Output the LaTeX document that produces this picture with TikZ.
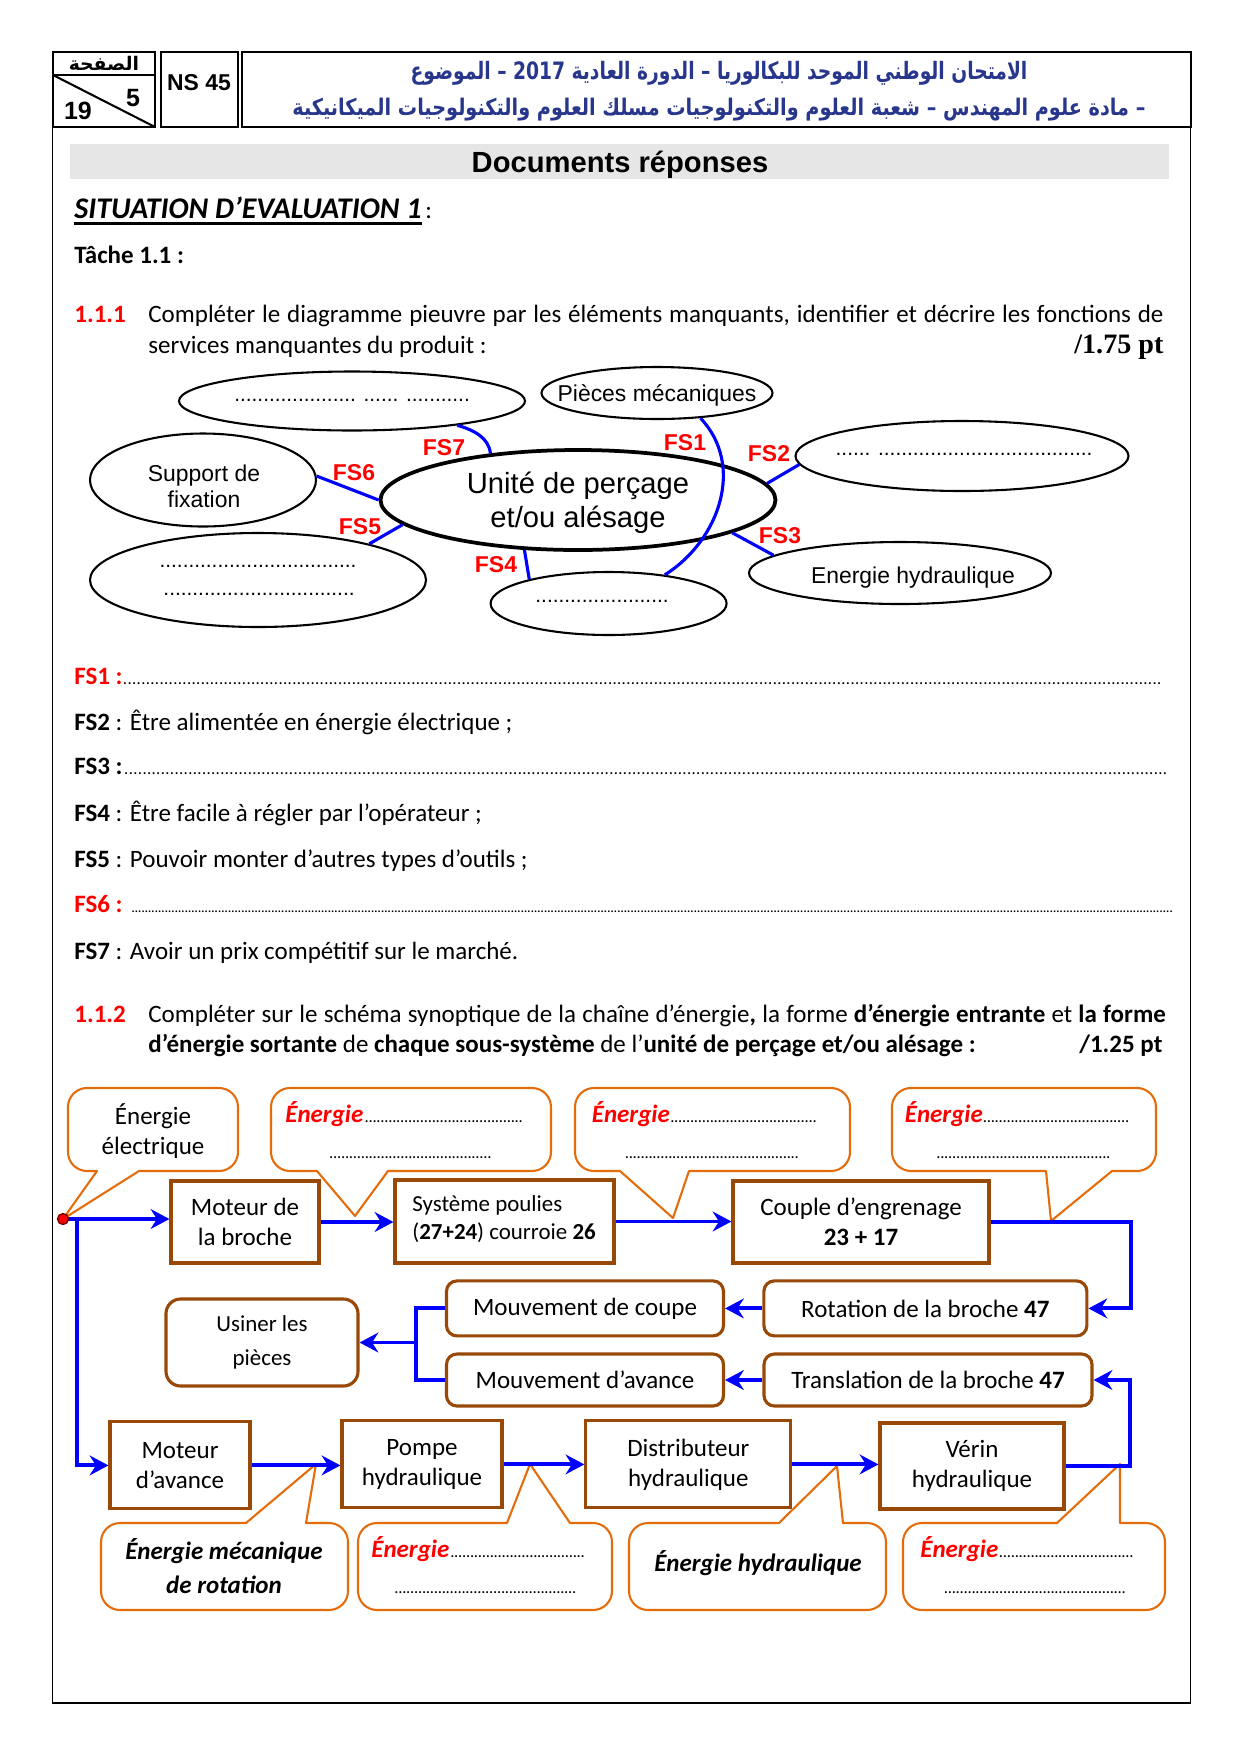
\documentclass[tikz,border=0pt]{standalone}
\usepackage{fontspec}
\usepackage{graphicx}
\setmainfont{Carlito}
\newfontfamily\arial{Liberation Sans}
\newfontfamily\tnr{Liberation Serif}
\newfontfamily\arabicfont[Script=Arabic]{DejaVu Sans}
\TeXXeTstate=1
\usetikzlibrary{shapes.geometric,arrows.meta,calc}
\definecolor{calloutc}{RGB}{228,108,10}
\definecolor{boxc}{RGB}{152,72,7}
\definecolor{hdrblue}{RGB}{40,55,140}
\definecolor{barg}{RGB}{230,230,230}
\newdimen\Upx \Upx=0.48pt
\newcommand\fdots{\cleaders\hbox to 1.9pt{\hss\fontsize{8}{8}\selectfont.\hss}\hfill}
\newcommand\fsdots{\cleaders\hbox to 2.2pt{\hss\fontsize{8}{8}\selectfont.\hss}\hfill}
\newcommand\fsdotsb{\cleaders\hbox to 1.6pt{\hss\fontsize{7}{7}\selectfont.\hss}\hfill}
\newcommand\enrg{{\color{red}\bfseries\itshape Énergie}}
% callout with pointer below: xL yT xR yB pL pR tipx tipy
\newcommand\callB[8]{\draw[callout] (#5,#4) -- (#7,#8) -- (#6,#4) -- ({#3-19},#4) arc[start angle=90,end angle=0,radius=19] -- (#3,{#2+19}) arc[start angle=0,end angle=-90,radius=19] -- ({#1+19},#2) arc[start angle=270,end angle=180,radius=19] -- (#1,{#4-19}) arc[start angle=180,end angle=90,radius=19] -- cycle;}
% callout with pointer above
\newcommand\callT[8]{\draw[callout] (#6,#2) -- (#7,#8) -- (#5,#2) -- ({#1+19},#2) arc[start angle=270,end angle=180,radius=19] -- (#1,{#4-19}) arc[start angle=180,end angle=90,radius=19] -- ({#3-19},#4) arc[start angle=90,end angle=0,radius=19] -- (#3,{#2+19}) arc[start angle=0,end angle=-90,radius=19] -- cycle;}
\begin{document}
\begin{tikzpicture}[x=0.48pt,y=-0.48pt,
  txt/.style={inner sep=0pt},
  sz/.style 2 args={minimum width={#1*\Upx},minimum height={#2*\Upx}},
  ell/.style={ellipse,draw,line width=1pt,inner sep=0pt},
  etxt/.style={inner sep=0pt,anchor=base,font=\arial\fontsize{11}{12.5}\selectfont},
  edots/.style={inner sep=0pt,anchor=base,font=\arial\fontsize{10}{12}\selectfont},
  pv/.style={blue,line width=1.5pt},
  fsl/.style={text=red,font=\arial\bfseries\fontsize{11}{13}\selectfont,inner sep=0pt},
  box/.style={draw=boxc,line width=1.5pt,inner sep=0pt,align=center,font=\fontsize{12}{14.4}\selectfont},
  rbox/.style={box,rounded corners=5pt},
  callout/.style={draw=calloutc,line width=1pt,line join=round},
  flow/.style={blue,line width=1.9pt,-{Stealth[length=9pt,width=9.5pt,inset=3pt]}},
  flowl/.style={blue,line width=1.9pt},
  hdr/.style={line width=1.4pt}
]
\useasboundingbox[fill=white] (0,0) rectangle (1240,1754);

% ---------------- header ----------------
\draw[hdr] (53,52) rectangle (155,127);
\draw[hdr] (53,75) -- (155,75);
\draw[line width=1pt] (53,75) -- (155,127);
\node[txt] (page) at (104,63) {\arabicfont\bfseries\fontsize{9}{9}\selectfont\beginR الصفحة\endR};
\node[txt] (p19) at (78,111) {\arial\bfseries\fontsize{12}{12}\selectfont 19};
\node[txt] (p5) at (133,98) {\arial\bfseries\fontsize{12}{12}\selectfont 5};
\draw[hdr] (161,52) rectangle (238,127);
\node[txt] (ns) at (199,83) {\arial\bfseries\fontsize{11}{12}\selectfont NS 45};
\draw[hdr] (242,52) rectangle (1191,127);
\node[txt] (ar1) at (719,73) {\scalebox{0.78}[1]{\arabicfont\bfseries\fontsize{11.5}{13}\selectfont\color{hdrblue}\beginR الامتحان الوطني الموحد للبكالوريا – الدورة العادية \beginL 2017\endL{} – الموضوع\endR}};
\node[txt] (ar2) at (719,110) {\scalebox{0.84}[1]{\arabicfont\bfseries\fontsize{11}{13}\selectfont\color{hdrblue}\beginR – مادة علوم المهندس – شعبة العلوم والتكنولوجيات مسلك العلوم والتكنولوجيات الميكانيكية\endR}};

% page frame
\draw[line width=0.7pt] (52.5,127) -- (52.5,1703) -- (1190.5,1703) -- (1190.5,127);

% ---------------- title ----------------
\fill[barg] (70,144) rectangle (1169,179);
\node[txt,anchor=base,font=\arial\bfseries\fontsize{14}{16}\selectfont] (title) at (620,172) {Documents réponses};

\node[txt,anchor=base west,font=\fontsize{14.4}{17}\selectfont\bfseries\itshape] (sit) at (74,218) {SITUATION D’EVALUATION 1 };
\draw[line width=1.1pt] ([yshift=-2.6pt]sit.base west) -- ([yshift=-2.6pt]sit.base east);
\node[txt,anchor=base west,font=\fontsize{12}{14}\selectfont] (sitc) at ([xshift=1.5pt]sit.base east) {:};

\node[txt,anchor=base west,font=\fontsize{12}{14}\selectfont\bfseries] (tache) at (74,263) {Tâche 1.1 :};

\node[txt,anchor=base west,font=\fontsize{12}{14}\selectfont\bfseries,text=red] (q111) at (74,322) {1.1.1};
\node[txt,anchor=base west,font=\fontsize{12}{14}\selectfont] (q111a) at (148,322) {\makebox[487.2pt][s]{Compléter le diagramme pieuvre par les éléments manquants, identifier et décrire les fonctions de}};
\node[txt,anchor=base west,font=\fontsize{12}{14}\selectfont] (q111b) at (148,353) {\makebox[487.2pt][l]{services manquantes du produit :\hfill{\tnr\bfseries\fontsize{13.5}{14}\selectfont /1.75 pt}}};

% ---------------- pieuvre ----------------
\node[ell,sz={346}{59}] (t7) at (352,401) {};
\node[ell,sz={231}{52}] (pm) at (657,393) {};
\node[ell,sz={395}{100},line width=1.8pt] (c) at (578,500) {};
\node[ell,sz={226}{93}] (sf) at (203,480) {};
\node[ell,sz={333}{70}] (re) at (962,456) {};
\node[ell,sz={336}{94}] (e5) at (258,580) {};
\node[ell,sz={236}{63}] (e4) at (608.6,603.5) {};
\node[ell,sz={302}{62}] (eh) at (900,573) {};

\node[edots] (t7t) at (352,401) {..................... ...... ...........};
\node[etxt] (pmt) at (657,401) {Pièces mécaniques};
\node[etxt,font=\arial\fontsize{14}{16}\selectfont] (ct1) at (578,493) {Unité de perçage};
\node[etxt,font=\arial\fontsize{14}{16}\selectfont] (ct2) at (578,527) {et/ou alésage};
\node[etxt] (sft1) at (204,481) {Support de};
\node[etxt] (sft2) at (204,507) {fixation};
\node[edots] (ret) at (964,455) {...... .....................................};
\node[edots] (e5t1) at (258,567) {..................................};
\node[edots] (e5t2) at (259,595) {.................................};
\node[edots] (e4t) at (602,602) {.......................};
\node[etxt] (eht) at (913,583) {Energie hydraulique};

\draw[pv] (t7.-13) .. controls (474,430) and (489,438) .. (c.152);
\draw[pv] (sf.2) -- (c.180);
\draw[pv] (e5.18) -- (c.188);
\draw[pv] (c.223) -- (e4.163);
\draw[pv] (pm.-30) .. controls (745,465) and (720,540) .. (e4.27);
\draw[pv] (c.5) -- (re.183);
\draw[pv] (c.-12) -- (eh.172);

\node[fsl] (l7) at (444,448) {FS7};
\node[fsl] (l6) at (354,473) {FS6};
\node[fsl] (l5) at (360,527) {FS5};
\node[fsl] (l4) at (496,565) {FS4};
\node[fsl] (l1) at (685,443) {FS1};
\node[fsl] (l2) at (769,454) {FS2};
\node[fsl] (l3) at (780,536) {FS3};

% ---------------- FS lines ----------------
\begin{scope}[every node/.style={txt,anchor=base west,font=\fontsize{12}{14}\selectfont}]
\node (fs1) at (74,684) {\hbox to 522.7pt{{\color{red}\bfseries FS1 :}\fsdots}};
\node (fs2) at (74,730) {\textbf{FS2} : Être alimentée en énergie électrique ;};
\node (fs3) at (74,774) {\hbox to 526.1pt{\textbf{FS3 :}\fsdots}};
\node (fs4) at (74,821) {\textbf{FS4} : Être facile à régler par l’opérateur ;};
\node (fs5) at (74,867) {\textbf{FS5} : Pouvoir monter d’autres types d’outils ;};
\node (fs6) at (74,912) {\hbox to 528.8pt{{\color{red}\bfseries FS6 : }\fsdotsb}};
\node (fs7) at (74,959) {\textbf{FS7} : Avoir un prix compétitif sur le marché.};
\node[text=red,font=\fontsize{12}{14}\selectfont\bfseries] (q112) at (74,1022) {1.1.2};
\node (q112a) at (148,1022) {\makebox[488.4pt][s]{Compléter sur le schéma synoptique de la chaîne d’énergie\textbf{,} la forme \textbf{d’énergie entrante} et \textbf{la forme}}};
\node (q112b) at (148,1052) {\makebox[486.7pt][l]{\textbf{d’énergie sortante} de \textbf{chaque sous-système} de l’\textbf{unité de perçage et/ou alésage :}\hfill\textbf{/1.25 pt}}};
\end{scope}

% ---------------- energy chain: callouts ----------------
\callB{68}{1088}{238}{1171}{97}{139}{63}{1219}
\callB{271}{1088}{551}{1171}{317}{388}{355}{1216}
\callB{575}{1088}{850}{1171}{620}{689}{673}{1218}
\callB{892}{1088}{1156}{1171}{1046}{1112}{1051}{1221}
\callT{101}{1523}{348}{1610}{246}{306}{316}{1464}
\callT{358}{1523}{612}{1610}{507}{570}{530}{1464}
\callT{629}{1523}{886}{1610}{779}{843}{837}{1466}
\callT{903}{1523}{1165}{1610}{1057}{1120}{1120}{1464}

\begin{scope}[every node/.style={txt,font=\fontsize{12}{14.4}\selectfont}]
\node[align=center] (c1t) at (153,1131) {Énergie\\électrique};
\node[anchor=base west] (c2a) at (285,1122) {\hbox to 114.7pt{\enrg\fdots}};
\node[anchor=base] (c2b) at (410.5,1158) {\hbox to 79.2pt{\fdots}};
\node[anchor=base west] (c3a) at (591.5,1122) {\hbox to 108.2pt{\enrg\fdots}};
\node[anchor=base] (c3b) at (712,1158) {\hbox to 84.5pt{\fdots}};
\node[anchor=base west] (c4a) at (904.5,1122) {\hbox to 107.8pt{\enrg\fdots}};
\node[anchor=base] (c4b) at (1023.5,1158) {\hbox to 85pt{\fdots}};
\node[align=center,font=\fontsize{12}{16.3}\selectfont\bfseries\itshape] (d1t) at (224,1566) {Énergie mécanique\\de rotation};
\node[anchor=base west] (d2a) at (371,1557) {\hbox to 103pt{\enrg\fdots}};
\node[anchor=base] (d2b) at (485.5,1593) {\hbox to 87.8pt{\fdots}};
\node[font=\fontsize{12}{14.4}\selectfont\bfseries\itshape] (d3t) at (758,1563) {Énergie hydraulique};
\node[anchor=base west] (d4a) at (920,1557) {\hbox to 102.7pt{\enrg\fdots}};
\node[anchor=base] (d4b) at (1035,1593) {\hbox to 88pt{\fdots}};
\end{scope}

% ---------------- energy chain: boxes ----------------
\node[box,sz={148}{82}] (b1) at (245,1222) {Moteur de\\la broche};
\node[box,sz={219}{83}] (b2) at (504.5,1221.5) {};
\node[txt,anchor=west,align=left,font=\fontsize{11}{13.4}\selectfont] (b2t) at (412,1219) {Système poulies\\(\textbf{27+24}) courroie \textbf{26}};
\node[box,sz={256}{82}] (b3) at (861,1222) {Couple d’engrenage\\\textbf{23 + 17}};
\node[rbox,sz={192}{87},rounded corners=7pt,font=\fontsize{11}{16}\selectfont] (r5) at (262,1342.5) {Usiner les\\pièces};
\node[rbox,sz={277}{55}] (r1) at (585,1308.4) {Mouvement de coupe};
\node[rbox,sz={323}{55}] (r2) at (925.4,1308.4) {Rotation de la broche \textbf{47}};
\node[rbox,sz={277}{52}] (r3) at (585,1380) {Mouvement d’avance};
\node[rbox,sz={328}{52}] (r4) at (928,1380) {Translation de la broche \textbf{47}};
\node[box,sz={140}{87}] (b4) at (180,1465.4) {Moteur\\d’avance};
\node[box,sz={160}{87}] (b5) at (422,1464.4) {Pompe\\hydraulique};
\node[box,sz={205}{87}] (b6) at (688.4,1464.4) {Distributeur\\hydraulique};
\node[box,sz={184}{86}] (b7) at (972,1466) {Vérin\\hydraulique};

% ---------------- energy chain: flows ----------------
\coordinate (dot) at (63,1219);
\coordinate (sp) at (77,1219);
\coordinate (jn) at (416,1342.5);
\draw[flow] (dot) -- (dot -| b1.west);
\draw[flow] (sp) |- (b4.west);
\draw[flow] (b1.east) -- (b1.east -| b2.west);
\draw[flow] (b2.east) -- (b2.east -| b3.west);
\draw[flow] (b3.east) -- ++(140,0) |- (r2.east);
\draw[flow] (r2.west) -- (r1.east);
\draw[flow] (r4.west) -- (r3.east);
\draw[flowl] (r1.west) -- (r1.west -| jn) -- (r3.west -| jn) -- (r3.west);
\draw[flow] (jn) -- (r5.east);
\draw[flow] (b4.east) -- (b4.east -| b5.west);
\draw[flow] (b5.east) -- (b5.east -| b6.west);
\draw[flow] (b6.east) -- (b6.east -| b7.west);
\draw[flow] (b7.east) -- ++(64,0) |- (r4.east);
\fill[red,draw=black!60!red,line width=0.6pt] (dot) circle (5.5);
\end{tikzpicture}
\end{document}
